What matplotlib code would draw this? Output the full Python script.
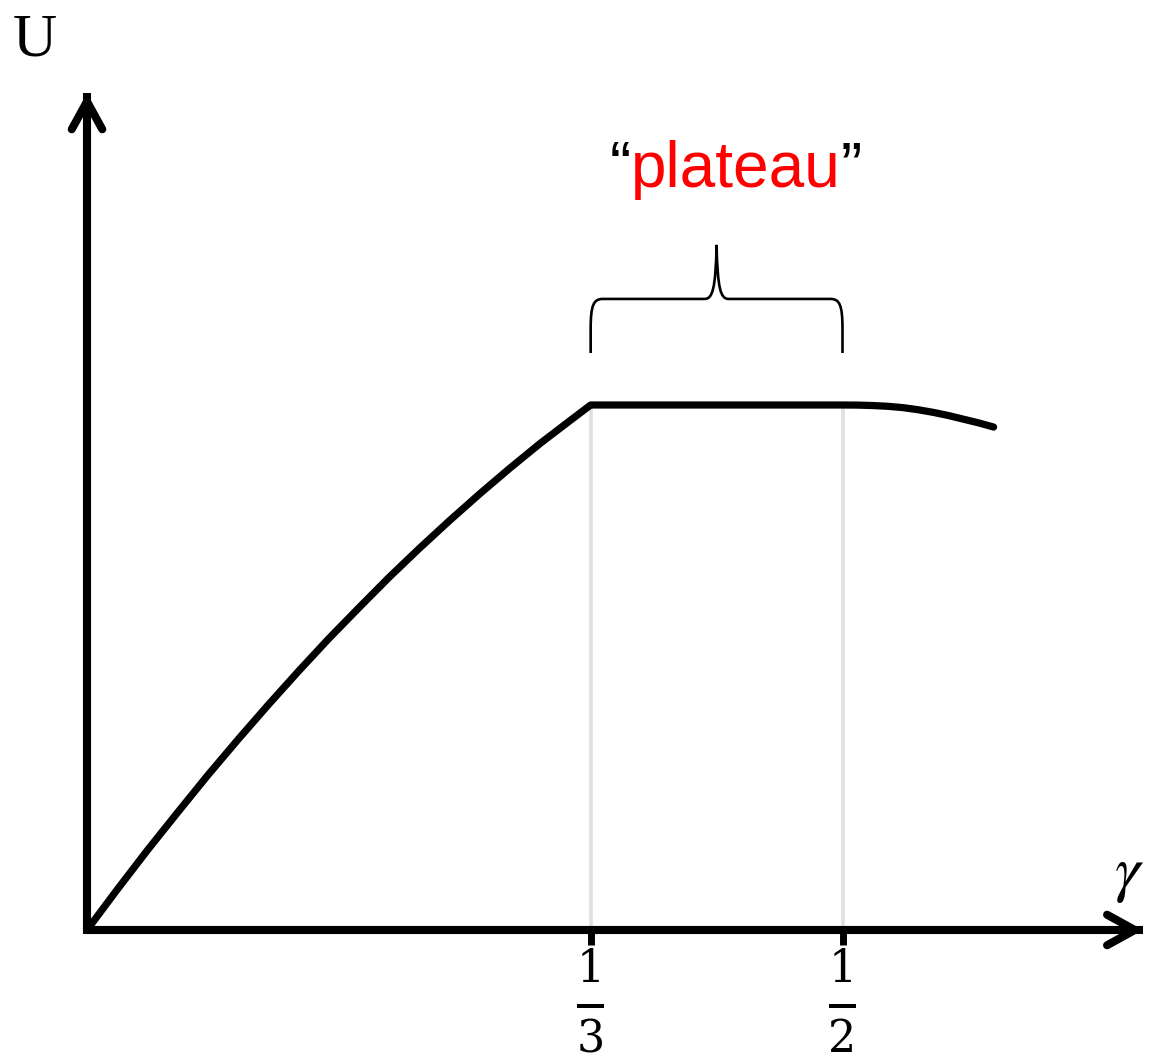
import numpy as np
import matplotlib
matplotlib.use("Agg")
import matplotlib.pyplot as plt
from matplotlib.path import Path
from matplotlib.patches import PathPatch

# utility curve: rising part, flat plateau, slow decline afterwards
gamma_rise = [0.0, 0.02, 0.04, 0.06, 0.08, 0.10, 0.12, 0.14, 0.16, 0.18,
              0.20, 0.22, 0.24, 0.26, 0.28, 0.30, 0.32, 1 / 3]
u_rise = [0.0, 0.077, 0.152, 0.224, 0.295, 0.363, 0.429, 0.493, 0.555, 0.614,
          0.672, 0.727, 0.780, 0.831, 0.880, 0.927, 0.971, 1.0]
gamma_fall = [0.5, 0.51, 0.52, 0.53, 0.54, 0.55, 0.56, 0.57, 0.58, 0.59, 0.60]
u_fall = [1.0, 0.9998, 0.999, 0.9975, 0.995, 0.991, 0.986, 0.980, 0.973, 0.966, 0.958]

tick_vals = [1 / 3, 1 / 2]
tick_num = ["1", "1"]
tick_den = ["3", "2"]

gamma = np.array(gamma_rise + gamma_fall)
u = np.array(u_rise + u_fall)

# figure in pixel-ish units: 1 gamma unit ~ 1511 px, 1 U unit ~ 525 px
W, H = 1152, 1061
fig = plt.figure(figsize=(W / 100, H / 100), dpi=100)
ax = fig.add_axes([0, 0, 1, 1])
ax.set_xlim(-87 / 1511, (W - 87) / 1511)
ax.set_ylim(-(H - 930) / 525, 930 / 525)
ax.axis("off")

px = 1 / 1511   # one pixel along gamma
py = 1 / 525    # one pixel along U

x_end = 0.699
y_end = 1.594

# guide lines at the tick positions
for t in tick_vals:
    ax.plot([t, t], [0, 1], color="#e0e0e0", lw=2.6, solid_capstyle="butt", zorder=1)

# axes with open arrow heads
ax.plot([0, 0, x_end], [y_end, 0, 0], color="black", lw=5.8,
        solid_joinstyle="miter", solid_capstyle="butt", zorder=3)
arrow_kw = dict(arrowstyle="->, head_length=1.0, head_width=0.55", color="black",
                lw=5.8, shrinkA=0, shrinkB=0, mutation_scale=20,
                capstyle="round", joinstyle="miter")
ax.annotate("", xy=(0, y_end), xytext=(0, 0), arrowprops=arrow_kw, zorder=3)
ax.annotate("", xy=(x_end, 0), xytext=(0, 0), arrowprops=arrow_kw, zorder=3)

# curve
ax.plot(gamma, u, color="black", lw=5.2, solid_capstyle="round",
        solid_joinstyle="round", zorder=4)

# tick marks and fraction labels
serif = "DejaVu Serif"
for t, n, d in zip(tick_vals, tick_num, tick_den):
    ax.plot([t, t], [0, -15 * py], color="black", lw=5.0, solid_capstyle="butt", zorder=3)
    ax.text(t, -0.099, n, ha="center", va="baseline", fontsize=32, family=serif)
    ax.plot([t - 13.5 * px, t + 13.5 * px], [-0.1448, -0.1448], color="black",
            lw=2.9, solid_capstyle="butt")
    ax.text(t, -0.2324, d, ha="center", va="baseline", fontsize=32, family=serif)

# axis labels
ax.text(-0.0344, 1.665, "U", ha="center", va="baseline", fontsize=44,
        family="Liberation Serif")
ax.text(0.6896, 0.1067, r"$\gamma$", ha="center", va="center", fontsize=46,
        math_fontfamily="stix")

# brace over the plateau
x0, x1 = tick_vals
xm = (x0 + x1) / 2
yb, yh, yt = 1.099, 1.202, 1.305
verts = [
    (x0, yb), (x0, yh - 30 * py),
    (x0, yh - 6 * py), (x0 + 3 * px, yh), (x0 + 12 * px, yh),
    (xm - 12 * px, yh),
    (xm - 4 * px, yh), (xm - 1 * px, yh + 10 * py), (xm, yt),
    (xm + 1 * px, yh + 10 * py), (xm + 4 * px, yh), (xm + 12 * px, yh),
    (x1 - 12 * px, yh),
    (x1 - 3 * px, yh), (x1, yh - 6 * py), (x1, yh - 30 * py),
    (x1, yb),
]
codes = [Path.MOVETO, Path.LINETO,
         Path.CURVE4, Path.CURVE4, Path.CURVE4,
         Path.LINETO,
         Path.CURVE4, Path.CURVE4, Path.CURVE4,
         Path.CURVE4, Path.CURVE4, Path.CURVE4,
         Path.LINETO,
         Path.CURVE4, Path.CURVE4, Path.CURVE4,
         Path.LINETO]
ax.add_patch(PathPatch(Path(verts, codes), facecolor="none", edgecolor="black", lw=1.9))

# "plateau" label, red word with black quotes
sans = "Liberation Sans"
word = ax.text(0.4292, 1.415, "plateau", color="red", ha="center", va="baseline",
               fontsize=46, family=sans)
ax.annotate("\u201c", xy=(0, 1.415), xycoords=(word, "data"), ha="right",
            va="baseline", fontsize=46, family=sans, color="black")
ax.annotate("\u201d", xy=(1, 1.415), xycoords=(word, "data"), ha="left",
            va="baseline", fontsize=46, family=sans, color="black")

fig.savefig("out.png", dpi=100)
